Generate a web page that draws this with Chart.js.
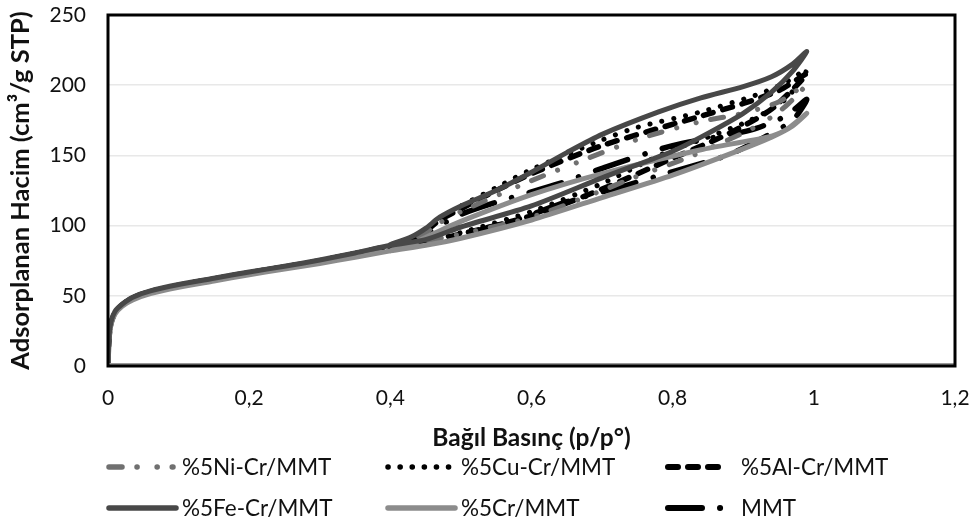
<!DOCTYPE html>
<html>
<head>
<meta charset="utf-8">
<script src="https://cdn.jsdelivr.net/npm/chart.js@4"></script>
<style>
  html, body { margin: 0; padding: 0; background: #fff; }
  #wrap { width: 977px; height: 525px; }
</style>
</head>
<body>
<div id="wrap"><canvas id="canvasIsotherm" width="977" height="525"></canvas></div>
<script>
// N2 isotherms, adsorption branch up to p/p0 ~ 0.99 then desorption back down
var seriesNames = ['%5Ni-Cr/MMT', '%5Cu-Cr/MMT', '%5Al-Cr/MMT', '%5Fe-Cr/MMT', '%5Cr/MMT', 'MMT'];

var niP = [0, 0.001, 0.004, 0.01, 0.02, 0.035, 0.06, 0.1, 0.15, 0.2, 0.25, 0.3, 0.35, 0.4, 0.45, 0.5, 0.6, 0.7, 0.744, 0.829, 0.92, 0.96, 0.99,
           0.95, 0.9, 0.839, 0.754, 0.67, 0.6, 0.5, 0.47, 0.45, 0.43, 0.4];
var niV = [0, 17, 30, 38, 43.5, 48.5, 53, 57.5, 62, 66.5, 70.5, 75, 80, 85, 89, 94, 106, 125, 134, 150, 171, 185, 201,
           188, 180, 174, 162, 146, 132, 110, 102, 95, 90, 85];

var cuP = [0, 0.001, 0.004, 0.01, 0.02, 0.035, 0.06, 0.1, 0.15, 0.2, 0.25, 0.3, 0.35, 0.4, 0.45, 0.5, 0.6, 0.7, 0.79, 0.85, 0.91, 0.96, 0.99,
           0.96, 0.924, 0.84, 0.75, 0.7, 0.6, 0.55, 0.5, 0.47, 0.45, 0.43, 0.4];
var cuV = [0, 17, 30, 38, 43.5, 48.5, 53, 57.5, 62, 66.5, 70.5, 75, 80, 85.5, 88.5, 95, 110, 130, 152, 163, 175, 190, 211,
           202, 194, 181, 170, 161, 140, 127, 114, 105, 97, 91, 85.5];

var alP = [0, 0.001, 0.004, 0.01, 0.02, 0.035, 0.06, 0.1, 0.15, 0.2, 0.25, 0.3, 0.35, 0.4, 0.45, 0.5, 0.6, 0.7, 0.8, 0.877, 0.94, 0.99,
           0.95, 0.9, 0.84, 0.7, 0.6, 0.55, 0.5, 0.47, 0.45, 0.43, 0.4];
var alV = [0, 17, 30, 38, 43.5, 48.5, 53, 57.5, 62, 66.5, 70.5, 75, 80, 85.5, 88.5, 94, 107, 126, 148, 165, 183, 208,
           196, 187, 178, 157, 137, 125, 112, 104, 96, 90, 85.5];

var feP = [0, 0.001, 0.004, 0.01, 0.02, 0.035, 0.06, 0.1, 0.15, 0.2, 0.25, 0.3, 0.35, 0.4, 0.45, 0.5, 0.6, 0.7, 0.8, 0.84, 0.9, 0.94, 0.97, 0.99,
           0.97, 0.94, 0.9, 0.84, 0.78, 0.7, 0.65, 0.6, 0.55, 0.5, 0.47, 0.45, 0.43, 0.4];
var feV = [0, 18, 31, 39, 44, 49, 53.5, 58, 62.5, 67, 71, 75.5, 80.5, 86, 90, 99, 114, 134, 153, 163, 180, 195, 210, 224,
           215, 206, 199, 191, 181, 165, 152, 138, 125, 114, 106, 98, 92, 86.5];

var crP = [0, 0.001, 0.004, 0.01, 0.02, 0.035, 0.06, 0.1, 0.15, 0.2, 0.25, 0.3, 0.35, 0.4, 0.45, 0.5, 0.6, 0.7, 0.8, 0.886, 0.94, 0.97, 0.99,
           0.96, 0.934, 0.84, 0.7, 0.6, 0.5, 0.46, 0.43, 0.4];
var crV = [0, 16, 29, 37, 42.5, 47, 51.5, 56, 60.5, 65, 69, 73, 77.5, 82, 86, 91, 104, 120, 136, 152, 163, 171, 180,
           168, 163, 154, 137, 122, 103, 94, 87, 82];

var mmtP = [0, 0.001, 0.004, 0.01, 0.02, 0.035, 0.06, 0.1, 0.15, 0.2, 0.25, 0.3, 0.35, 0.4, 0.45, 0.513, 0.584, 0.65, 0.73, 0.79, 0.877, 0.93, 0.97, 0.99,
            0.96, 0.91, 0.8, 0.707, 0.64, 0.546, 0.5, 0.47, 0.45, 0.43, 0.4];
var mmtV = [0, 17, 30, 38, 43.5, 48.5, 53, 57.5, 62, 66.5, 70.5, 75, 80, 85, 88, 95, 105, 117, 128, 137, 150, 163, 175, 190,
            178, 168, 157, 142, 130, 116, 108, 100, 93, 88, 85];

var xTicks = ['0', '0,2', '0,4', '0,6', '0,8', '1', '1,2'];

function toPoints(px, py) {
    var pts = [];
    for (var i = 0; i < px.length; i++) {
        pts.push({x: px[i], y: py[i]});
    }
    return pts;
}

var FONT = 'Lato';
var lineStyles = [
    {color: '#707070', width: 5, dash: [13, 15, 0.1, 20, 0.1, 15]},
    {color: '#000000', width: 5, dash: [0.1, 12]},
    {color: '#000000', width: 5.5, dash: [10, 10]},
    {color: '#484848', width: 5, dash: []},
    {color: '#8c8c8c', width: 5, dash: []},
    {color: '#000000', width: 5.5, dash: [34, 18, 0.1, 18]}
];
// legend sample length per series (dashed samples stop short of the text)
var sampleLen = [67, 67, 62, 70, 70, 62];
var xs = [niP, cuP, alP, feP, crP, mmtP];
var ys = [niV, cuV, alV, feV, crV, mmtV];

var datasets = [];
// solid lines drawn first so the dashed ones stay visible over them
var order = [3, 4, 0, 5, 2, 1];
for (var k = 0; k < order.length; k++) {
    var i = order[k];
    datasets.push({
        label: seriesNames[i],
        data: toPoints(xs[i], ys[i]),
        showLine: true,
        fill: false,
        borderColor: lineStyles[i].color,
        borderWidth: lineStyles[i].width,
        borderDash: lineStyles[i].dash,
        borderCapStyle: 'round',
        borderJoinStyle: 'round',
        pointRadius: 0,
        pointHoverRadius: 0,
        tension: 0.25
    });
}

// plot frame and the two-row legend under the axis title
var framePlugin = {
    id: 'frame',
    afterDatasetsDraw: function(chart) {
        var a = chart.chartArea, c = chart.ctx;
        c.save();
        c.strokeStyle = '#9a9a9a';
        c.lineWidth = 2;
        c.beginPath();
        c.moveTo(a.left, a.bottom - 2);
        c.lineTo(a.right, a.bottom - 2);
        c.stroke();
        c.strokeStyle = '#000';
        c.lineWidth = 3;
        c.strokeRect(a.left, a.top, a.right - a.left, a.bottom - a.top);
        c.restore();
    },
    afterDraw: function(chart) {
        var c = chart.ctx;
        var colX = [106, 385, 665];
        var rowY = [467, 508];
        c.save();
        c.font = '22.5px ' + FONT;
        c.textBaseline = 'middle';
        for (var i = 0; i < seriesNames.length; i++) {
            var x = colX[i % 3], y = rowY[Math.floor(i / 3)];
            var st = lineStyles[i];
            c.strokeStyle = st.color;
            c.lineWidth = st.width + 0.5;
            c.lineCap = 'round';
            c.setLineDash(st.dash);
            c.beginPath();
            c.moveTo(x + 3, y);
            c.lineTo(x + sampleLen[i], y);
            c.stroke();
            c.setLineDash([]);
            c.fillStyle = '#111';
            c.fillText(seriesNames[i], x + 76, y + 1);
        }
        c.restore();
    }
};

var ctx = document.getElementById('canvasIsotherm').getContext('2d');
new Chart(ctx, {
    type: 'scatter',
    data: {datasets: datasets},
    options: {
        responsive: false,
        animation: false,
        events: [],
        layout: {padding: {left: 5, right: 22, top: 15, bottom: 72}},
        plugins: {legend: {display: false}, tooltip: {enabled: false}},
        scales: {
            x: {
                type: 'linear',
                min: 0,
                max: 1.2,
                afterFit: function(s) { s.height = 87; s.paddingLeft = 0; s.paddingRight = 0; },
                ticks: {
                    stepSize: 0.2,
                    padding: 20,
                    color: '#111',
                    font: {family: FONT, size: 21},
                    callback: function(v, i) { return xTicks[i]; }
                },
                grid: {display: false, drawTicks: false},
                border: {display: false},
                title: {
                    display: true,
                    text: 'Bağıl Basınç (p/p°)',
                    color: '#111',
                    font: {family: FONT, size: 24.5, weight: 'bold'},
                    padding: {top: 13, bottom: 0}
                }
            },
            y: {
                type: 'linear',
                min: 0,
                max: 250,
                afterFit: function(s) { s.width = 103; s.paddingTop = 0; s.paddingBottom = 0; },
                ticks: {
                    stepSize: 50,
                    padding: 22,
                    color: '#111',
                    font: {family: FONT, size: 21}
                },
                grid: {color: '#e8e8e8', lineWidth: 1.5, drawTicks: false},
                border: {display: false},
                title: {
                    display: true,
                    text: 'Adsorplanan Hacim (cm³/g STP)',
                    color: '#111',
                    font: {family: FONT, size: 25.5, weight: 'bold'},
                    padding: {top: 0, bottom: 0}
                }
            }
        }
    },
    plugins: [framePlugin]
});
</script>
</body>
</html>
